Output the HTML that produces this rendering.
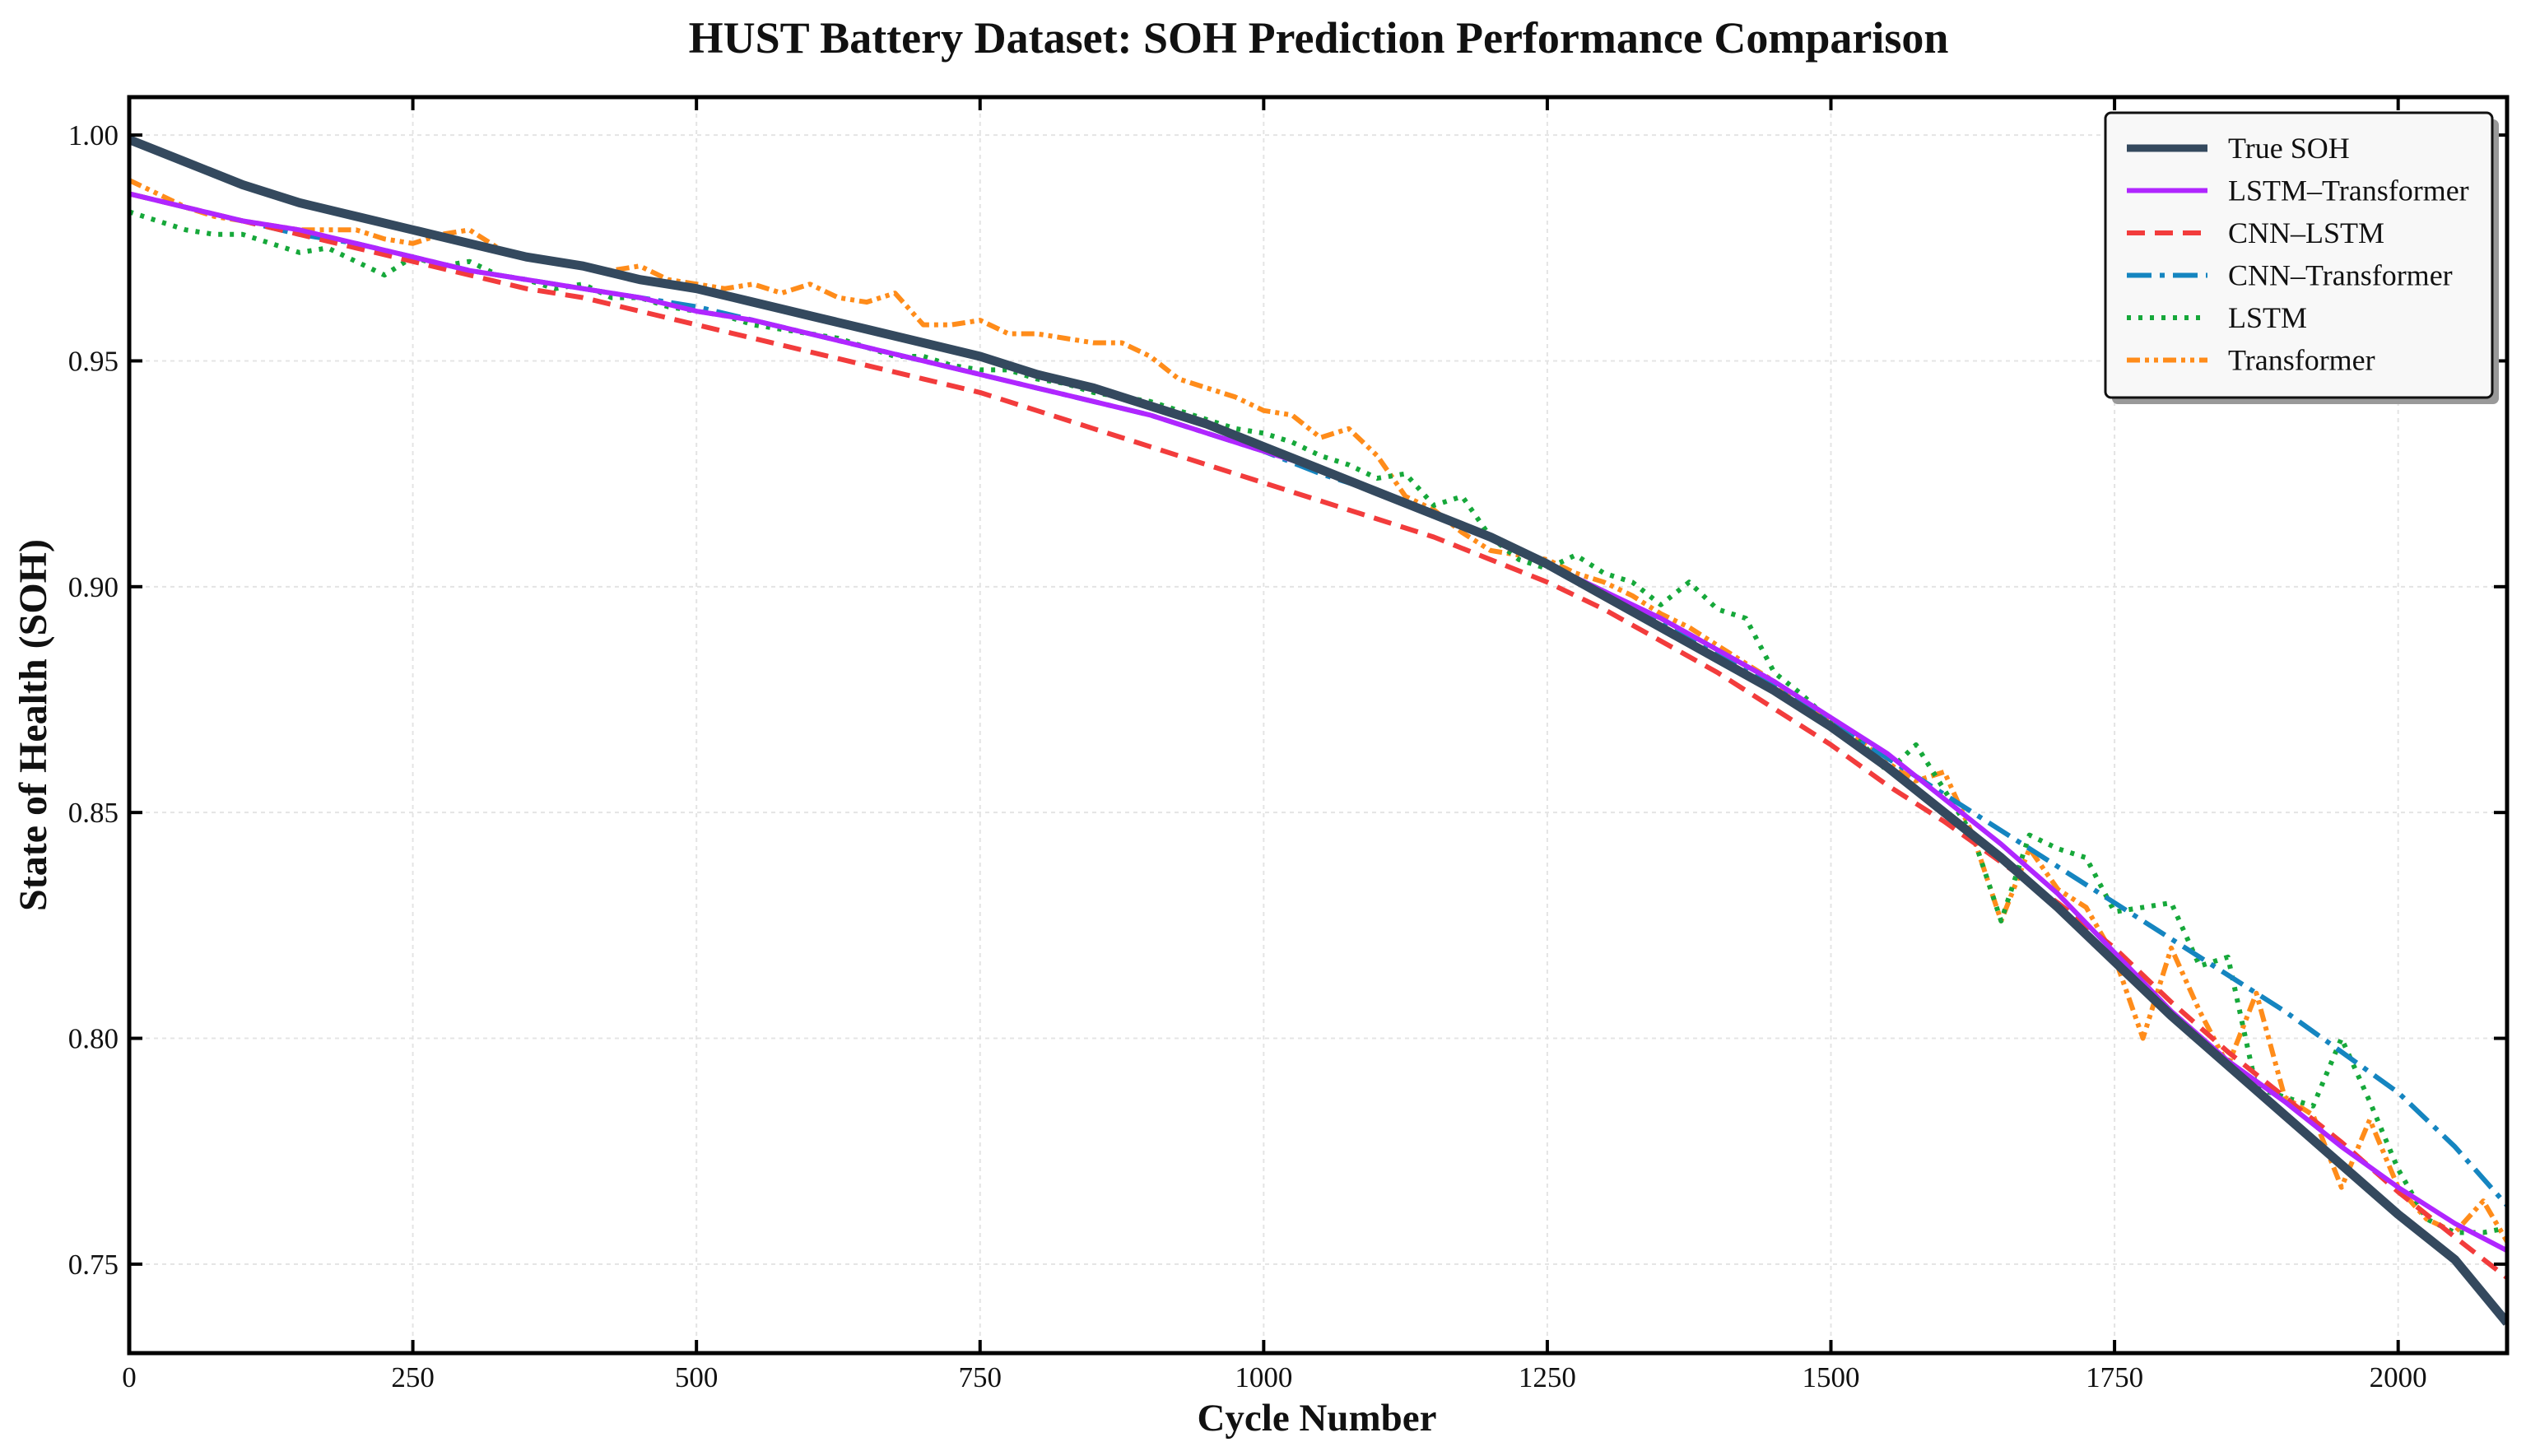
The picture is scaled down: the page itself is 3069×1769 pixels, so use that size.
<!DOCTYPE html>
<html><head><meta charset="utf-8"><style>
html,body{margin:0;padding:0;background:#fff;}
svg{display:block;font-family:"Liberation Serif",serif;}
</style></head><body>
<svg id="chart" width="3069" height="1769" viewBox="0 0 3069 1769" xmlns="http://www.w3.org/2000/svg">
<rect x="0" y="0" width="3069" height="1769" fill="#fff"/>
<text x="1602" y="64" text-anchor="middle" font-size="54" font-weight="bold" fill="#111">HUST Battery Dataset: SOH Prediction Performance Comparison</text>
<g id="grid"></g>
<defs><clipPath id="plotclip"><rect x="157" y="118" width="2889" height="1526"/></clipPath></defs>
<g id="series" clip-path="url(#plotclip)"></g>
<rect x="157" y="118" width="2889" height="1526" fill="none" stroke="#000" stroke-width="5"/>
<g id="ticks"></g>
<text x="1600" y="1738" text-anchor="middle" font-size="47" font-weight="bold" fill="#111">Cycle Number</text>
<text transform="translate(56,881) rotate(-90)" text-anchor="middle" font-size="48" font-weight="bold" fill="#111">State of Health (SOH)</text>
<g id="legend">
<rect x="2566" y="145" width="470" height="346" rx="7" fill="#999"/>
<rect x="2558" y="137" width="470" height="346" rx="7" fill="#f8f8f8" stroke="#111" stroke-width="3"/>
</g>
</svg>
<script>
const X0=157,X1=3046,Y0=118,Y1=1644;
const xMin=0,xMax=2096,yMin=0.7303,yMax=1.0084;
function sx(v){return X0+(v-xMin)/(xMax-xMin)*(X1-X0);}
function sy(v){return Y1-(v-yMin)/(yMax-yMin)*(Y1-Y0);}
const xTicks=[0,250,500,750,1000,1250,1500,1750,2000];
const yTicks=[0.75,0.80,0.85,0.90,0.95,1.00];
const yTickLabels=["0.75","0.80","0.85","0.90","0.95","1.00"];
const smoothStep=50;
const noisyStep=25;
const trueSOH=[0.999,0.994,0.989,0.985,0.982,0.979,0.976,0.973,0.971,0.968,0.966,0.963,0.960,0.957,0.954,0.951,0.947,0.944,0.940,0.936,0.931,0.926,0.921,0.916,0.911,0.905,0.898,0.891,0.884,0.877,0.869,0.860,0.850,0.840,0.829,0.817,0.805,0.794,0.783,0.772,0.761,0.751,0.737];
const lstmTransformer=[0.987,0.984,0.981,0.979,0.976,0.973,0.970,0.968,0.966,0.964,0.961,0.959,0.956,0.953,0.950,0.947,0.944,0.941,0.938,0.934,0.930,0.926,0.921,0.916,0.911,0.905,0.899,0.893,0.886,0.879,0.871,0.863,0.853,0.843,0.832,0.819,0.806,0.795,0.786,0.776,0.767,0.759,0.753];
const cnnLstm=[0.987,0.984,0.981,0.978,0.975,0.972,0.969,0.966,0.964,0.961,0.958,0.955,0.952,0.949,0.946,0.943,0.939,0.935,0.931,0.927,0.923,0.919,0.915,0.911,0.906,0.901,0.895,0.888,0.881,0.873,0.865,0.856,0.848,0.839,0.830,0.820,0.808,0.797,0.787,0.777,0.766,0.756,0.747];
const cnnTransformer=[0.987,0.984,0.981,0.978,0.976,0.973,0.970,0.968,0.966,0.964,0.962,0.959,0.956,0.953,0.950,0.947,0.944,0.941,0.938,0.934,0.930,0.925,0.921,0.916,0.911,0.905,0.899,0.892,0.885,0.878,0.870,0.862,0.854,0.846,0.838,0.830,0.822,0.814,0.806,0.797,0.788,0.776,0.763];
const lstm=[0.983,0.981,0.979,0.978,0.978,0.976,0.974,0.975,0.972,0.969,0.973,0.971,0.972,0.969,0.968,0.966,0.967,0.964,0.964,0.962,0.961,0.960,0.958,0.957,0.956,0.955,0.953,0.951,0.951,0.949,0.948,0.948,0.946,0.945,0.943,0.942,0.941,0.939,0.937,0.935,0.934,0.932,0.929,0.927,0.924,0.925,0.918,0.920,0.911,0.906,0.904,0.907,0.903,0.901,0.896,0.901,0.895,0.893,0.881,0.876,0.870,0.866,0.859,0.865,0.855,0.845,0.826,0.845,0.842,0.840,0.828,0.829,0.830,0.816,0.818,0.789,0.787,0.785,0.800,0.786,0.771,0.760,0.757,0.757,0.758];
const transformer=[0.990,0.987,0.984,0.982,0.981,0.980,0.979,0.979,0.979,0.977,0.976,0.978,0.979,0.975,0.973,0.972,0.971,0.970,0.971,0.968,0.967,0.966,0.967,0.965,0.967,0.964,0.963,0.965,0.958,0.958,0.959,0.956,0.956,0.955,0.954,0.954,0.951,0.946,0.944,0.942,0.939,0.938,0.933,0.935,0.929,0.920,0.917,0.912,0.908,0.907,0.906,0.903,0.901,0.898,0.894,0.891,0.887,0.883,0.879,0.874,0.870,0.866,0.861,0.857,0.859,0.845,0.826,0.842,0.833,0.829,0.818,0.800,0.820,0.806,0.794,0.810,0.787,0.783,0.767,0.782,0.767,0.760,0.757,0.764,0.755];
const NS="http://www.w3.org/2000/svg";
function mk(tag,attrs,parent){const e=document.createElementNS(NS,tag);for(const k in attrs)e.setAttribute(k,attrs[k]);parent.appendChild(e);return e;}
const grid=document.getElementById('grid'),ticks=document.getElementById('ticks'),series=document.getElementById('series'),legend=document.getElementById('legend');
xTicks.forEach(t=>{const x=sx(t);
 const g=mk('line',{x1:x,x2:x,y1:Y0,y2:Y1,stroke:'#e4e4e4','stroke-width':2,'stroke-dasharray':'5 5'},grid);
 
 
 const a=mk('line',{x1:x,x2:x,y1:Y1,y2:Y1-16,stroke:'#000','stroke-width':4},ticks);
 
 
 const b=mk('line',{x1:x,x2:x,y1:Y0,y2:Y0+16,stroke:'#000','stroke-width':4},ticks);
 
 
 const l=mk('text',{x:x,y:1685,'text-anchor':'middle','font-size':35,fill:'#111'},ticks);l.textContent=String(t);
 
 
});
yTicks.forEach((t,i)=>{const y=sy(t);
 const g=mk('line',{x1:X0,x2:X1,y1:y,y2:y,stroke:'#e4e4e4','stroke-width':2,'stroke-dasharray':'5 5'},grid);
 
 
 const a=mk('line',{x1:X0,x2:X0+16,y1:y,y2:y,stroke:'#000','stroke-width':4},ticks);
 
 
 const b=mk('line',{x1:X1,x2:X1-16,y1:y,y2:y,stroke:'#000','stroke-width':4},ticks);
 
 
 const l=mk('text',{x:144,y:y+12,'text-anchor':'end','font-size':35,fill:'#111'},ticks);l.textContent=yTickLabels[i];
 
 
});
function pathD(arr,step){return arr.map((v,i)=>(i?'L':'M')+sx(Math.min(i*step,xMax)).toFixed(1)+','+sy(v).toFixed(1)).join(' ');}
const defs=[
 {name:'transformer-line',data:transformer,step:noisyStep,color:'#ff8c1a',w:6,dash:'16 6 5 6 5 6',label:'Transformer'},
 {name:'lstm-line',data:lstm,step:noisyStep,color:'#16a83a',w:6,dash:'5 9',label:'LSTM'},
 {name:'cnn-transformer-line',data:cnnTransformer,step:smoothStep,color:'#1585c0',w:6,dash:'30 10 6 10',label:'CNN–Transformer'},
 {name:'cnn-lstm-line',data:cnnLstm,step:smoothStep,color:'#f23c3c',w:6,dash:'22 12',label:'CNN–LSTM'},
 {name:'lstm-transformer-line',data:lstmTransformer,step:smoothStep,color:'#b026ff',w:6,dash:'',label:'LSTM–Transformer'},
 {name:'true-soh-line',data:trueSOH,step:smoothStep,color:'#34495e',w:11,dash:'',label:'True SOH'}
];
defs.forEach(d=>{const p=mk('path',{d:pathD(d.data,d.step),fill:'none',stroke:d.color,'stroke-width':d.w,'stroke-linejoin':'round'},series);
 if(d.dash)p.setAttribute('stroke-dasharray',d.dash);
 
 
});
const legendOrder=[5,4,3,2,1,0];
legendOrder.forEach((idx,i)=>{const d=defs[idx];const y=180+i*51.5;
 const s=mk('line',{x1:2584,x2:2682,y1:y,y2:y,stroke:d.color,'stroke-width':idx===5?9:6},legend);
 if(d.dash)s.setAttribute('stroke-dasharray',d.dash);
 
 
 const t=mk('text',{x:2707,y:y+12,'font-size':36,fill:'#111'},legend);t.textContent=d.label;
 
 
});
</script>
</body></html>
